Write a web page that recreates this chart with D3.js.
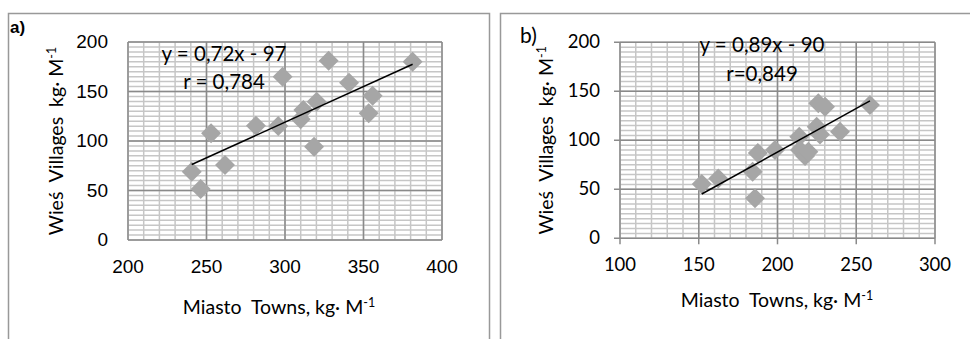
<!DOCTYPE html>
<html>
<head>
<meta charset="utf-8">
<script src="https://cdn.jsdelivr.net/npm/d3@7"></script>
<style>
  body { margin: 0; background: #fff; }
  text { white-space: pre; }
</style>
</head>
<body>
<div id="chart"></div>
<script>
// DATA - panel a)
const A_TOWNS = [240.6, 246.3, 252.9, 261.8, 281.5, 295.7, 298.5, 310, 311.7, 318.5, 320.2, 327.8, 340.8, 353.3, 355.8, 381.3];
const A_VILLAGES = [69, 51.5, 107.8, 75.8, 115.5, 115.2, 165, 122, 131.3, 94.3, 139.7, 181, 158.9, 128, 145.8, 180.1];
const A_X_TICKS = [200, 250, 300, 350, 400];
const A_Y_TICKS = [0, 50, 100, 150, 200];
const A_FIT = [0.72, -97];
const A_LABELS = ["y = 0,72x - 97", "r = 0,784"];

// DATA - panel b)
const B_TOWNS = [151.9, 162.4, 184.2, 185.7, 187.5, 198.4, 213.8, 214.3, 217.5, 219.6, 224.9, 227, 225.9, 230.2, 239.7, 258.7];
const B_VILLAGES = [55.4, 61, 68, 40.8, 87, 90.1, 103.7, 90.1, 84, 88.4, 113.9, 106, 137.7, 134.3, 108.8, 136];
const B_X_TICKS = [100, 150, 200, 250, 300];
const B_Y_TICKS = [0, 50, 100, 150, 200];
const B_FIT = [0.89, -90];
const B_LABELS = ["y = 0,89x - 90", "r=0,849"];

const WIDTH = 970;
const HEIGHT = 339;
const GRID_MAJOR = "#8a8a8a";
const GRID_MINOR = "#c6c6c6";
const POINT_COLOR = "#a6a6a6";

const SVG = d3.select("#chart").append("svg")
  .attr("width", WIDTH)
  .attr("height", HEIGHT);

// PANEL FRAMES
SVG.append("rect")
  .attr("x", 8.5).attr("y", 13.5)
  .attr("width", 481).attr("height", 340)
  .attr("fill", "none").attr("stroke", "#999").attr("stroke-width", 1.5);
SVG.append("rect")
  .attr("x", 500.5).attr("y", 13.5)
  .attr("width", 480).attr("height", 340)
  .attr("fill", "none").attr("stroke", "#999").attr("stroke-width", 1.5);

drawPanel({
  towns: A_TOWNS, villages: A_VILLAGES, xTicks: A_X_TICKS, yTicks: A_Y_TICKS,
  fit: A_FIT, labels: A_LABELS,
  left: 128, right: 442, top: 42, bottom: 240,
  tickFont: "Liberation Sans, Arial, sans-serif", tickSize: 19, tickMarks: false,
  tag: "a)", tagX: 10, tagY: 33, tagFont: "Liberation Sans, Arial, sans-serif", tagSize: 17, tagWeight: "bold",
  labelPos: [[224, 61], [224, 89]],
  yTitleX: 63, xTitleX: 279, xTitleY: 314
});

drawPanel({
  towns: B_TOWNS, villages: B_VILLAGES, xTicks: B_X_TICKS, yTicks: B_Y_TICKS,
  fit: B_FIT, labels: B_LABELS,
  left: 620, right: 935, top: 42.3, bottom: 238.3,
  tickFont: "Lato, sans-serif", tickSize: 18.5, tickMarks: true,
  tag: "b)", tagX: 520, tagY: 43, tagFont: "Lato, sans-serif", tagSize: 21, tagWeight: "normal",
  labelPos: [[762, 52], [762, 81]],
  yTitleX: 553, xTitleX: 777, xTitleY: 307
});

// DRAW ONE PANEL
function drawPanel(p) {
  const x = d3.scaleLinear()
    .domain([p.xTicks[0], p.xTicks[p.xTicks.length - 1]])
    .range([p.left, p.right]);
  const y = d3.scaleLinear()
    .domain([p.yTicks[0], p.yTicks[p.yTicks.length - 1]])
    .range([p.bottom, p.top]);
  const g = SVG.append("g");

  // minor grid
  const xMinor = d3.range(x.domain()[0], x.domain()[1] + 1, 10);
  const yMinor = d3.range(y.domain()[0], y.domain()[1] + 1, 5);
  g.selectAll(".vminor").data(xMinor).enter().append("line")
    .attr("x1", d => x(d)).attr("x2", d => x(d))
    .attr("y1", p.top).attr("y2", p.bottom)
    .attr("stroke", GRID_MINOR).attr("stroke-width", 1.5);
  g.selectAll(".hminor").data(yMinor).enter().append("line")
    .attr("x1", p.left).attr("x2", p.right)
    .attr("y1", d => y(d)).attr("y2", d => y(d))
    .attr("stroke", GRID_MINOR).attr("stroke-width", 1.5);

  // major grid
  g.selectAll(".vmajor").data(p.xTicks).enter().append("line")
    .attr("x1", d => x(d)).attr("x2", d => x(d))
    .attr("y1", p.top).attr("y2", p.bottom + (p.tickMarks ? 6 : 0))
    .attr("stroke", GRID_MAJOR).attr("stroke-width", 1.5);
  g.selectAll(".hmajor").data(p.yTicks).enter().append("line")
    .attr("x1", p.left - (p.tickMarks ? 6 : 0)).attr("x2", p.right)
    .attr("y1", d => y(d)).attr("y2", d => y(d))
    .attr("stroke", GRID_MAJOR).attr("stroke-width", 1.5);

  // tick labels
  g.selectAll(".xlab").data(p.xTicks).enter().append("text")
    .attr("x", d => x(d)).attr("y", p.bottom + 33)
    .attr("text-anchor", "middle")
    .attr("font-family", p.tickFont).attr("font-size", p.tickSize)
    .text(d => d);
  g.selectAll(".ylab").data(p.yTicks).enter().append("text")
    .attr("x", p.left - 20).attr("y", d => y(d) + 6)
    .attr("text-anchor", "end")
    .attr("font-family", p.tickFont).attr("font-size", p.tickSize)
    .text(d => d);

  // points
  const diamond = d3.symbol().type(d3.symbolSquare).size(200);
  g.selectAll(".pt").data(p.towns).enter().append("path")
    .attr("d", diamond)
    .attr("transform", (d, i) => "translate(" + x(d) + "," + y(p.villages[i]) + ") rotate(45)")
    .attr("fill", POINT_COLOR);

  // trend line from the fitted equation
  const ext = d3.extent(p.towns);
  g.append("line")
    .attr("x1", x(ext[0])).attr("y1", y(p.fit[0] * ext[0] + p.fit[1]))
    .attr("x2", x(ext[1])).attr("y2", y(p.fit[0] * ext[1] + p.fit[1]))
    .attr("stroke", "#000").attr("stroke-width", 1.5);

  // equation labels
  g.selectAll(".eq").data(p.labels).enter().append("text")
    .attr("x", (d, i) => p.labelPos[i][0]).attr("y", (d, i) => p.labelPos[i][1])
    .attr("text-anchor", "middle")
    .attr("font-family", "Lato, sans-serif").attr("font-size", 20.5)
    .text(d => d);

  // panel tag
  g.append("text")
    .attr("x", p.tagX).attr("y", p.tagY)
    .attr("font-family", p.tagFont).attr("font-size", p.tagSize)
    .attr("font-weight", p.tagWeight)
    .text(p.tag);

  // axis titles
  const xt = g.append("text")
    .attr("x", p.xTitleX).attr("y", p.xTitleY)
    .attr("text-anchor", "middle")
    .attr("font-family", "Lato, sans-serif").attr("font-size", 19.5);
  xt.append("tspan").text("Miasto  Towns, kg\u00b7 M");
  xt.append("tspan").attr("font-size", 12.5).attr("dy", -7).text("-1");

  const yt = g.append("text")
    .attr("transform", "translate(" + p.yTitleX + "," + ((p.top + p.bottom) / 2) + ") rotate(-90)")
    .attr("text-anchor", "middle")
    .attr("font-family", "Lato, sans-serif").attr("font-size", 19.5);
  yt.append("tspan").text("Wie\u015b  Villages  kg\u00b7 M");
  yt.append("tspan").attr("font-size", 12.5).attr("dy", -7).text("-1");
}
</script>
</body>
</html>
